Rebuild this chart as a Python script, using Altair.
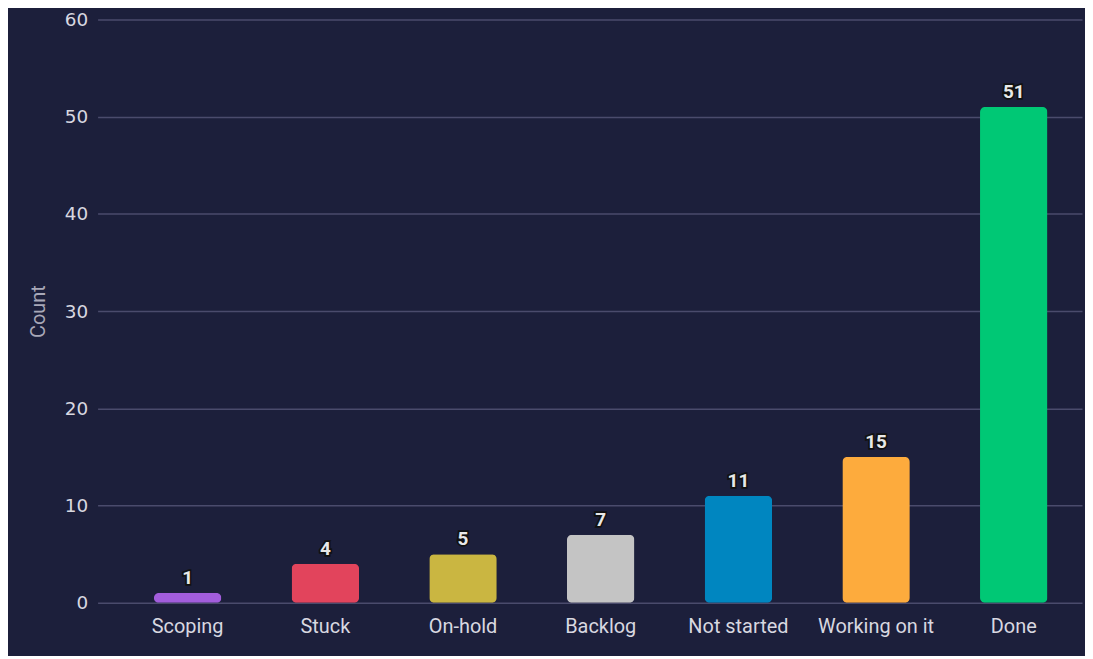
import altair as alt
import pandas as pd

categories = ["Scoping", "Stuck", "On-hold", "Backlog", "Not started", "Working on it", "Done"]
counts = [1, 4, 5, 7, 11, 15, 51]
colors = ["#a25ddc", "#e2445c", "#cab641", "#c4c4c4", "#0086c0", "#fdab3d", "#00c875"]

df = pd.DataFrame({"status": categories, "count": counts, "color": colors})

x = alt.X("status:N", sort=categories, title=None,
          scale=alt.Scale(paddingInner=0.51, paddingOuter=0.33, align=0.62),
          axis=alt.Axis(labelAngle=0, labelFontSize=20, labelColor="#d8d8e0", labelPadding=14,
                        ticks=False, domain=False, grid=False, labelFont="Roboto"))
y = alt.Y("count:Q", title="Count", scale=alt.Scale(domain=[0, 60]),
          axis=alt.Axis(values=[0, 10, 20, 30, 40, 50, 60], labelFontSize=18.5, labelColor="#d8d8e0",
                        titleColor="#a8a8b8", titleFontSize=20, titleFontWeight="normal",
                        titleFont="Roboto", labelFont="DejaVu Sans", titlePadding=16,
                        labelPadding=10, ticks=False, domain=False, gridColor="#4a4b6c",
                        gridWidth=1.5))

bars = alt.Chart(df).mark_bar(cornerRadius=5).encode(
    x=x, y=y, color=alt.Color("color:N", scale=None))

outline = alt.Chart(df).mark_text(dy=-15, fontSize=19, fontWeight="bold", font="Roboto",
                                  stroke="#111111", strokeWidth=3.5, fill="#111111").encode(
    x=x, y=y, text="count:Q")
labels = alt.Chart(df).mark_text(dy=-15, fontSize=19, fontWeight="bold", font="Roboto",
                                 fill="#e8e8e8").encode(
    x=x, y=y, text="count:Q")

chart = alt.layer(bars, outline, labels).properties(
    width=1082, height=648,
    background="#1c1f3b",
    padding={"left": 20, "top": 1, "right": 3, "bottom": 18},
    autosize=alt.AutoSizeParams(type="fit", contains="padding"),
).configure_view(stroke=None)

chart.save("out.html", embed_options={"renderer": "svg", "actions": False})
